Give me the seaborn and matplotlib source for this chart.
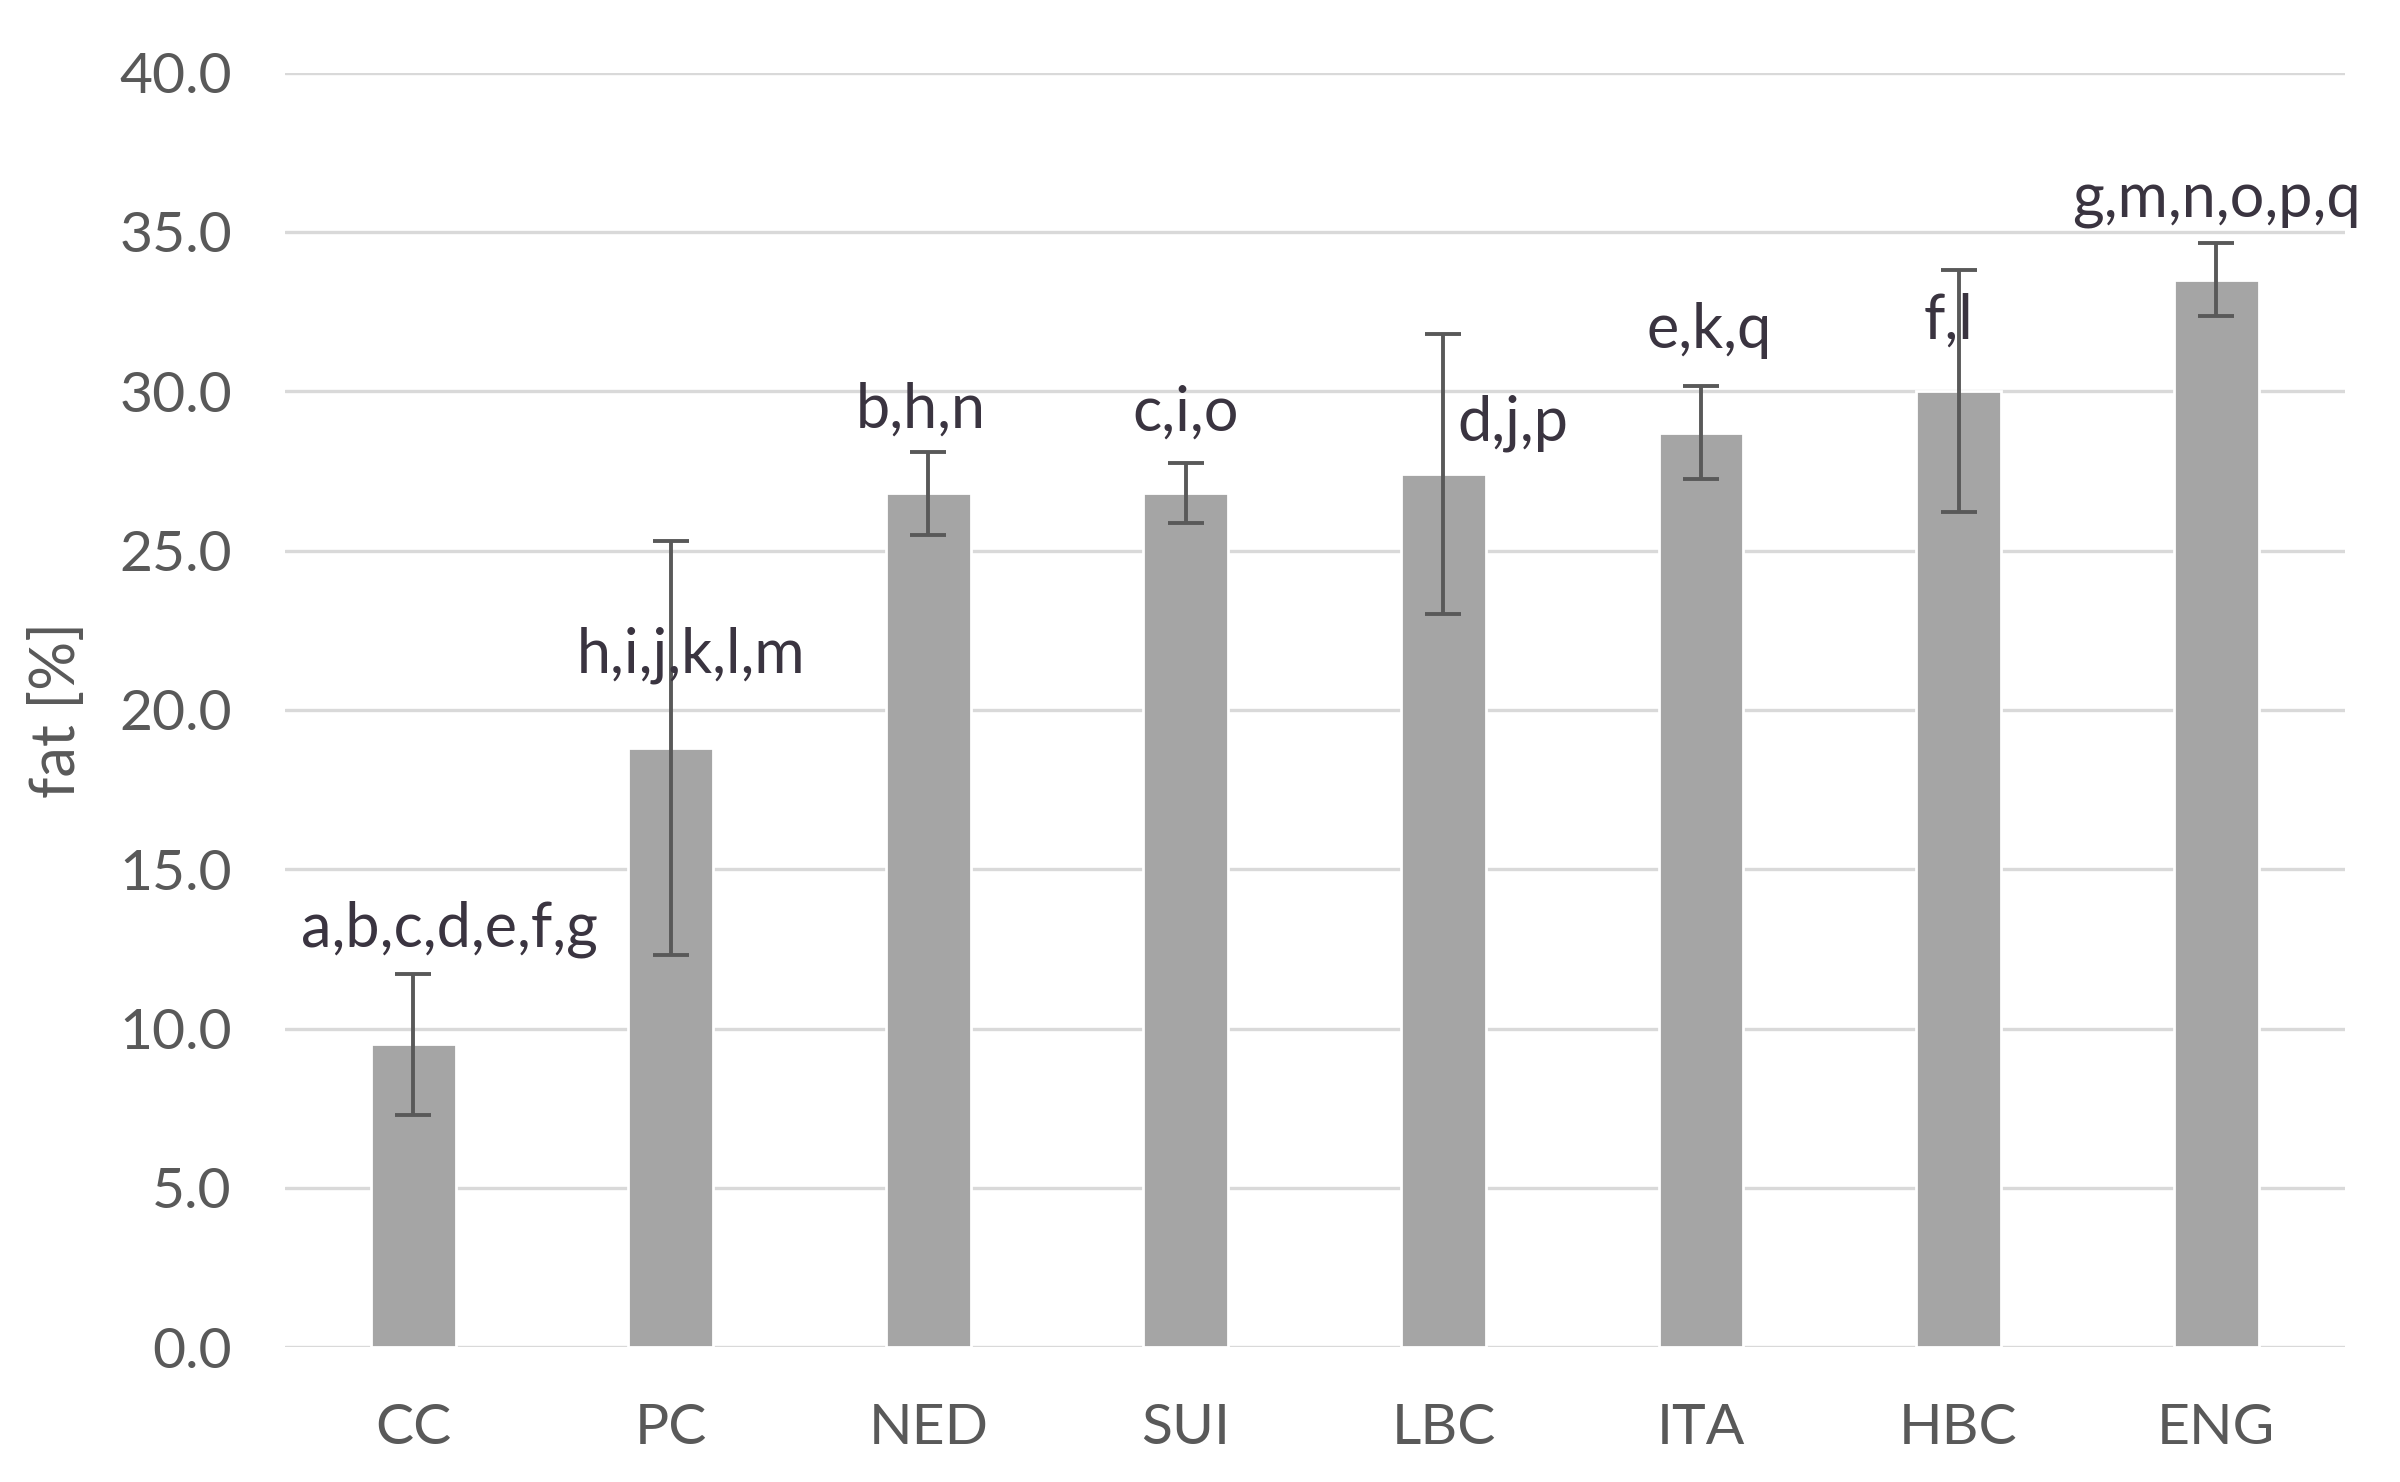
import numpy as np
import pandas as pd
import matplotlib
matplotlib.use("Agg")
import matplotlib.pyplot as plt
import seaborn as sns
from matplotlib.ticker import FormatStrFormatter, MultipleLocator

# values
groups = ['CC', 'PC', 'NED', 'SUI', 'LBC', 'ITA', 'HBC', 'ENG']
fat_mean = [9.5, 18.8, 26.8, 26.8, 27.4, 28.7, 30.0, 33.5]
fat_sd = [2.2, 6.5, 1.3, 0.95, 4.4, 1.45, 3.8, 1.15]
letters = ['a,b,c,d,e,f,g', 'h,i,j,k,l,m', 'b,h,n', 'c,i,o', 'd,j,p', 'e,k,q', 'f,l', 'g,m,n,o,p,q']

# where excel dropped the letter labels (x shift in bar units, y in %)
label_dx = [0.14, 0.08, -0.03, 0.0, 0.27, 0.03, -0.04, 0.0]
label_y = [13.1, 21.7, 29.4, 29.3, 29.0, 31.9, 32.2, 36.0]

TEXT = '#595959'

sns.set_theme(style='white')
plt.rcParams['font.family'] = ['Lato', 'DejaVu Sans']

df = pd.DataFrame({'group': groups, 'fat': fat_mean})

fig = plt.figure(figsize=(12, 7.41), dpi=200)
ax = fig.add_axes([0.1186, 0.091, 0.8584, 0.86])

sns.barplot(data=df, x='group', y='fat', order=groups, color='#a5a5a5',
            saturation=1, width=0.33, errorbar=None, ax=ax, zorder=2)
ax.errorbar(np.arange(len(groups)), fat_mean, yerr=fat_sd, fmt='none',
            ecolor=TEXT, elinewidth=1.4, capsize=6.5, capthick=1.4, zorder=3)

for i, txt in enumerate(letters):
    ax.text(i + label_dx[i], label_y[i], txt, ha='center', va='center',
            fontsize=22, color='#3a3440', zorder=4)

ax.set_ylim(0, 40)
ax.set_xlim(-0.5, len(groups) - 0.5)
ax.yaxis.set_major_locator(MultipleLocator(5))
ax.yaxis.set_major_formatter(FormatStrFormatter('%.1f'))
ax.grid(axis='y', color='#d9d9d9', linewidth=1.2, zorder=0)
ax.set_axisbelow(True)
sns.despine(ax=ax, left=True, top=True, right=True, bottom=True)

ax.tick_params(axis='both', length=0, labelsize=20.5, labelcolor=TEXT)
ax.tick_params(axis='x', pad=20)
ax.tick_params(axis='y', pad=19)
ax.set_xlabel('')
ax.set_ylabel('fat [%]', fontsize=22, color=TEXT, labelpad=12)

fig.savefig('out.png', dpi=200, facecolor='white')
